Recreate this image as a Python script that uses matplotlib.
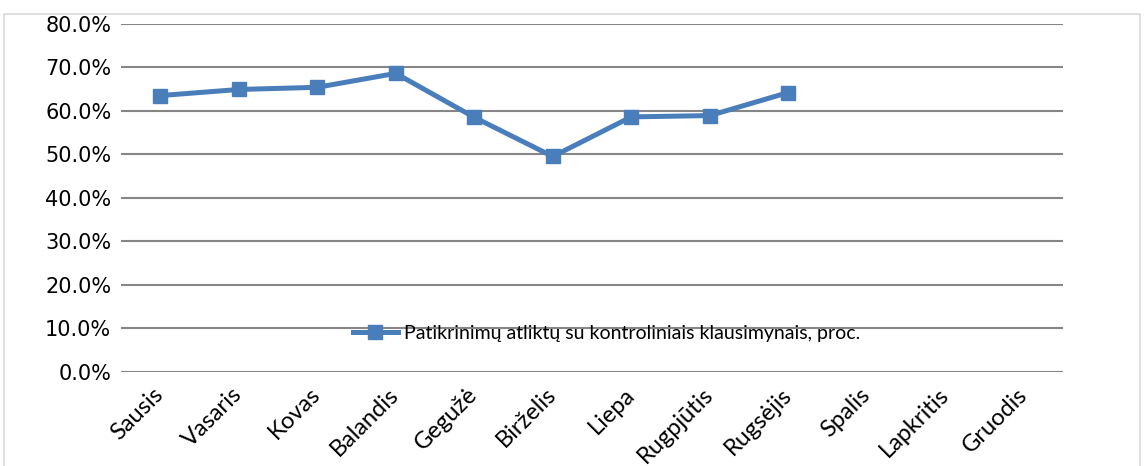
import matplotlib
matplotlib.use("Agg")
import matplotlib.pyplot as plt
from matplotlib.patches import Rectangle
from matplotlib.ticker import FuncFormatter

months = ["Sausis", "Vasaris", "Kovas", "Balandis", "Gegužė", "Birželis",
          "Liepa", "Rugpjūtis", "Rugsėjis", "Spalis", "Lapkritis", "Gruodis"]
values = [63.5, 64.9, 65.4, 68.6, 58.5, 49.5, 58.6, 58.9, 64.2]
series_name = "Patikrinimų atliktų su kontroliniais klausimynais, proc."
yticks = [0, 10, 20, 30, 40, 50, 60, 70, 80]

color = "#4A7EBB"
fig = plt.figure(figsize=(11.46, 4.66), dpi=100)
fig.patches.append(Rectangle((4/1146, -0.1), 1136/1146, 1 - 14/466 + 0.1,
                             transform=fig.transFigure, fill=False,
                             edgecolor="#D9D9D9", linewidth=1.2))
ax = fig.add_axes([121/1146, 1 - 371.8/466, 942/1146, (371.8 - 23.8)/466])

x = list(range(len(values)))
ax.plot(x, values, color=color, linewidth=3.6, marker="s", markersize=10,
        label=series_name, zorder=3)

ax.set_xlim(-0.5, len(months) - 0.5)
ax.set_ylim(0, 80)
ax.set_yticks(yticks)
ax.yaxis.set_major_formatter(FuncFormatter(lambda v, p: f"{v:.1f}%"))
ax.set_xticks(range(len(months)))
ax.set_xticklabels(months, rotation=45, ha="right", va="center",
                   rotation_mode="anchor", fontfamily="Lato", fontsize=17)
ax.tick_params(axis="both", length=0)
ax.tick_params(axis="y", pad=7, labelsize=15)
ax.tick_params(axis="x", pad=14)
for lbl in ax.get_yticklabels():
    lbl.set_fontfamily("DejaVu Sans")
ax.grid(axis="y", color="#868686", linewidth=1.5)
ax.set_axisbelow(True)
for s in ax.spines.values():
    s.set_visible(False)

leg = ax.legend(loc="center left", bbox_to_anchor=(224/942, (371.8 - 333)/348),
                frameon=False, prop={"family": "Lato", "size": 14},
                handlelength=2.3, handletextpad=0.35, borderaxespad=0)

fig.savefig("out.png", dpi=100)
